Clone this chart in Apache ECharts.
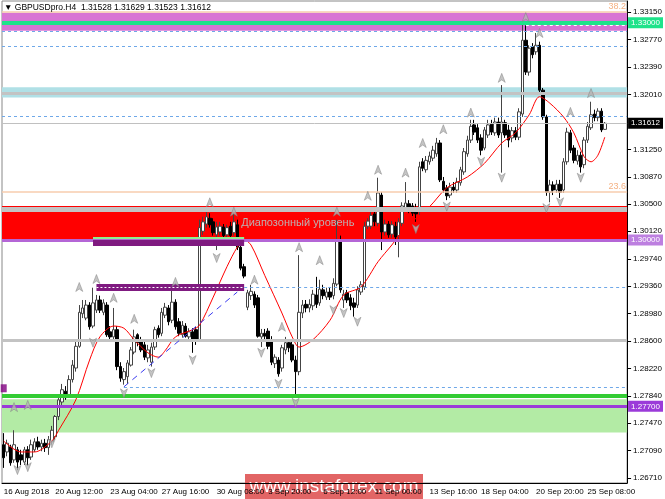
<!DOCTYPE html>
<html><head><meta charset="utf-8">
<script src="https://cdn.jsdelivr.net/npm/echarts@6/dist/echarts.min.js"></script>
<style>html,body{margin:0;padding:0;background:#fff}#c{width:665px;height:499px}</style>
</head><body><div id="c"></div>
<script>
// ---------- DATA ----------
const opens = [
1.2717,1.2707,1.2714,1.2696,1.2710,1.2703,1.2693,1.2710,1.2700,1.2710,
1.2721,1.2714,1.2719,1.2713,1.2721,1.2728,1.2756,1.2776,1.2791,1.2785,
1.2807,1.2823,1.2853,1.2898,1.2892,1.2910,1.2881,1.2903,1.2917,1.2900,
1.2910,1.2873,1.2866,1.2876,1.2825,1.2807,1.2811,1.2827,1.2845,1.2869,
1.2860,1.2855,1.2837,1.2831,1.2852,1.2878,1.2871,1.2896,1.2906,1.2889,
1.2914,1.2887,1.2869,1.2881,1.2866,1.2873,1.2876,1.2862,1.3012,1.3022,
1.3030,1.3025,1.3007,1.3011,1.3018,1.3007,1.3019,1.3010,1.3021,1.2990,
1.2963,1.2907,1.2923,1.2925,1.2920,1.2866,1.2871,1.2874,1.2862,1.2829,
1.2834,1.2823,1.2848,1.2858,1.2855,1.2834,1.2818,1.2899,1.2911,1.2906,
1.2909,1.2924,1.2913,1.2931,1.2921,1.2928,1.2923,1.2939,1.3000,1.2917,
1.2927,1.2920,1.2913,1.2910,1.2928,1.2935,1.3019,1.3019,1.3036,1.3023,
1.3062,1.3011,1.3022,1.3008,1.3019,1.3006,1.3023,1.3043,1.3050,1.3047,
1.3044,1.3039,1.3108,1.3097,1.3108,1.3113,1.3119,1.3134,1.3081,1.3072,
1.3062,1.3073,1.3069,1.3079,1.3094,1.3119,1.3138,1.3159,1.3155,1.3141,
1.3127,1.3145,1.3160,1.3148,1.3163,1.3148,1.3162,1.3152,1.3141,1.3151,
1.3142,1.3174,1.3276,1.3232,1.3267,1.3260,1.3269,1.3207,1.3170,1.3066,
1.3076,1.3069,1.3077,1.3069,1.3108,1.3148,1.3127,1.3109,1.3117,1.3104,
1.3138,1.3155,1.3174,1.3169,1.3178,1.31528];
const closes = [
1.2699,1.2719,1.2692,1.2717,1.2693,1.2696,1.2710,1.2699,1.2717,1.2721,
1.2714,1.2719,1.2713,1.2724,1.2737,1.2756,1.2779,1.2793,1.2782,1.2807,
1.2827,1.2853,1.2900,1.2906,1.2910,1.2880,1.2913,1.2917,1.2903,1.2913,
1.2869,1.2866,1.2876,1.2825,1.2809,1.2818,1.2830,1.2848,1.2866,1.2858,
1.2848,1.2838,1.2848,1.2852,1.2876,1.2869,1.2900,1.2907,1.2887,1.2914,
1.2880,1.2871,1.2882,1.2867,1.2873,1.2862,1.2862,1.3017,1.3025,1.3032,
1.3021,1.3010,1.3018,1.3019,1.3006,1.3017,1.3006,1.3025,1.2990,1.2961,
1.2950,1.2927,1.2929,1.2910,1.2867,1.2871,1.2867,1.2853,1.2831,1.2838,
1.2815,1.2851,1.2858,1.2851,1.2834,1.2818,1.2900,1.2910,1.2906,1.2911,
1.2925,1.2911,1.2932,1.2923,1.2928,1.2921,1.2940,1.3000,1.2931,1.2925,
1.2917,1.2909,1.2907,1.2931,1.2938,1.3019,1.3026,1.3034,1.3025,1.3065,
1.3011,1.3022,1.3007,1.3021,1.3004,1.3025,1.3047,1.3051,1.3041,1.3037,
1.3036,1.3101,1.3099,1.3110,1.3116,1.3124,1.3134,1.3083,1.3069,1.3061,
1.3073,1.3069,1.3080,1.3097,1.3122,1.3138,1.3157,1.3149,1.3138,1.3124,
1.3152,1.3159,1.3149,1.3163,1.3145,1.3163,1.3145,1.3138,1.3151,1.3142,
1.3177,1.3276,1.3232,1.3265,1.3256,1.3269,1.3207,1.3170,1.3066,1.3076,
1.3069,1.3077,1.3066,1.3108,1.3149,1.3124,1.3110,1.3117,1.3101,1.3138,
1.3157,1.3173,1.3169,1.3178,1.3152,1.31612];
const lows = [
1.2685,1.2701,1.2688,1.2692,1.2682,1.2689,1.2689,1.2688,1.2696,1.2707,
1.2710,1.2708,1.2707,1.2703,1.2717,1.2724,1.2751,1.2772,1.2779,1.2782,
1.2803,1.2818,1.2851,1.2892,1.2889,1.2876,1.2878,1.2899,1.2899,1.2896,
1.2866,1.2862,1.2862,1.2820,1.2804,1.2800,1.2801,1.2825,1.2842,1.2853,
1.2845,1.2834,1.2831,1.2825,1.2848,1.2865,1.2867,1.2892,1.2882,1.2885,
1.2876,1.2867,1.2865,1.2865,1.2862,1.2844,1.2855,1.2859,1.3007,1.3017,
1.3017,1.3006,1.2986,1.3006,1.3000,1.3003,1.3000,1.3006,1.2986,1.2958,
1.2947,1.2903,1.2917,1.2906,1.2865,1.2852,1.2862,1.2849,1.2827,1.2823,
1.2811,1.2818,1.2842,1.2845,1.2831,1.2783,1.2813,1.2892,1.2900,1.2900,
1.2903,1.2906,1.2909,1.2918,1.2917,1.2917,1.2918,1.2936,1.2927,1.2906,
1.2913,1.2903,1.2894,1.2906,1.2924,1.2931,1.3015,1.3015,1.3019,1.3019,
1.2986,1.3006,1.3003,1.3003,1.2993,1.2976,1.3019,1.3039,1.3037,1.3033,
1.3025,1.3034,1.3095,1.3093,1.3104,1.3109,1.3115,1.3080,1.3065,1.3055,
1.3058,1.3065,1.3065,1.3075,1.3090,1.3115,1.3134,1.3145,1.3134,1.3117,
1.3124,1.3141,1.3145,1.3144,1.3141,1.3093,1.3141,1.3128,1.3135,1.3138,
1.3138,1.3170,1.3228,1.3227,1.3251,1.3256,1.3204,1.3166,1.3061,1.3052,
1.3062,1.3065,1.3058,1.3065,1.3104,1.3120,1.3106,1.3104,1.3093,1.3099,
1.3134,1.3152,1.3164,1.3164,1.3149,1.31523];
const highs = [
1.2733,1.2724,1.2717,1.2737,1.2714,1.2710,1.2714,1.2715,1.2724,1.2726,
1.2728,1.2724,1.2725,1.2729,1.2743,1.2758,1.2786,1.2801,1.2798,1.2813,
1.2834,1.2859,1.2910,1.2917,1.2917,1.2914,1.2934,1.2924,1.2923,1.2918,
1.2914,1.2881,1.2906,1.2881,1.2831,1.2823,1.2834,1.2852,1.2876,1.2871,
1.2866,1.2859,1.2855,1.2858,1.2880,1.2882,1.2906,1.2913,1.2910,1.2931,
1.2918,1.2892,1.2888,1.2885,1.2878,1.2878,1.2880,1.3028,1.3032,1.3041,
1.3037,1.3030,1.3025,1.3025,1.3022,1.3021,1.3025,1.3037,1.3028,1.2993,
1.2967,1.2931,1.2938,1.2929,1.2924,1.2877,1.2877,1.2878,1.2867,1.2842,
1.2838,1.2855,1.2866,1.2862,1.2859,1.2840,1.2979,1.2917,1.2917,1.2918,
1.2931,1.2949,1.2945,1.2938,1.2934,1.2935,1.2947,1.3028,1.3006,1.2931,
1.2931,1.2925,1.2920,1.2936,1.2943,1.3025,1.3030,1.3039,1.3044,1.3086,
1.3066,1.3028,1.3026,1.3026,1.3025,1.3030,1.3052,1.3080,1.3055,1.3051,
1.3050,1.3108,1.3113,1.3116,1.3122,1.3130,1.3141,1.3138,1.3087,1.3076,
1.3079,1.3080,1.3086,1.3101,1.3127,1.3144,1.3166,1.3166,1.3160,1.3146,
1.3156,1.3166,1.3166,1.3169,1.3169,1.3214,1.3166,1.3159,1.3156,1.3156,
1.3182,1.3297,1.3298,1.3269,1.3272,1.3286,1.3274,1.3210,1.3173,1.3083,
1.3081,1.3083,1.3083,1.3113,1.3155,1.3152,1.3131,1.3124,1.3122,1.3142,
1.3163,1.3191,1.3180,1.3182,1.3182,1.31629];

// moving average: [bar index, value]
const maPoints = [[0,1.2722],[5,1.2707],[9,1.2707],[14,1.2722],[16,1.2737],[21,1.2779],[25,1.2834],[28,1.2866],[32,1.2881],[35,1.2878],[38,1.2862],[42,1.2844],[45,1.2838],[47,1.2847],[50,1.2866],[55,1.2876],[57,1.2882],[61,1.2921],[65,1.2963],[68,1.2990],[70,1.3000],[72,1.2993],[76,1.2951],[81,1.2899],[84,1.2866],[86,1.2852],[90,1.2862],[95,1.2889],[99,1.2924],[104,1.2935],[109,1.2970],[113,1.2993],[117,1.3017],[124,1.3046],[129,1.3072],[135,1.3087],[140,1.3106],[145,1.3134],[149,1.3148],[153,1.3173],[156,1.3198],[159,1.3189],[163,1.3170],[166,1.3148],[169,1.3115],[171,1.3108],[173,1.3117],[175,1.3142]];

// fractal arrows: [bar index, price]
const fractalUp = [[3,1.2769],[7,1.2772],[22,1.2935],[27,1.2946],[32,1.2920],[38,1.2891],[50,1.2942],[60,1.3052],[67,1.3039],[73,1.2945],[81,1.2880],[86,1.2990],[92,1.2972],[97,1.3039],[106,1.3061],[109,1.3097],[117,1.3093],[122,1.3134],[128,1.3153],[136,1.3176],[145,1.3224],[152,1.3308],[156,1.3286],[165,1.3177],[171,1.3203]];
const fractalDown = [[4,1.2682],[7,1.2686],[14,1.2719],[26,1.2858],[35,1.2788],[43,1.2816],[55,1.2834],[62,1.2975],[75,1.2844],[80,1.2801],[85,1.2775],[96,1.2903],[99,1.2899],[103,1.2887],[120,1.3015],[129,1.3046],[139,1.3108],[145,1.3086],[158,1.3044],[162,1.3052],[168,1.3086]];

// axis ticks
const yTickValues = [1.33150,1.32770,1.32390,1.32010,1.31250,1.30870,1.30500,1.30120,1.29740,1.29360,1.28980,1.28600,1.28220,1.27840,1.27470,1.27090,1.26710];
const xTickIdx = [0,15,31,46,62,77,93,108,124,139,155,170];
const xTickText = ['16 Aug 2018','20 Aug 12:00','23 Aug 04:00','27 Aug 16:00','30 Aug 08:00','3 Sep 20:00','6 Sep 12:00','11 Sep 00:00','13 Sep 16:00','18 Sep 04:00','20 Sep 20:00','25 Sep 08:00'];

// levels
const fibValues = [1.3315, 1.3066, 1.2664];
const fibText = ['38.2', '23.6', '0.0'];
const magentaBand = [1.3289, 1.3314];
const blueBand = [1.3197, 1.3211];
const redBand = [1.3000, 1.3047];
const greenBand = [1.2734, 1.2780];
const dashedLevels = [1.3289, 1.3267, 1.3171];
const level1330 = 1.3300, level1320 = 1.3203, lastPrice = 1.31612, level1304 = 1.3042;
const level1300 = 1.3000, level1286 = 1.2862, level1278 = 1.2784, level1277 = 1.2770;
const whiteRay = [152, 1.3296];
const limeSeg = [26, 70, 1.3003];
const purpleSeg1 = [26, 70, 1.2996];
const purpleSeg2 = [27, 70, 1.2935];
const blueRay1 = [70, 1.2934];
const blueRay2 = [35, 1.2797];
const trendLine = [[35, 1.2797], [68, 1.2928]];
const purpleMark = [[0, 1.2795]];
const rangeLabel = [69, 1.3023];
const totalSlots = 182;

// categories (H4 bars, weekends skipped)
const categories = [];
(function(){ let t = Date.UTC(2018,7,16,0,0);
  while (categories.length < totalSlots) { const d = new Date(t); const w = d.getUTCDay();
    if (w !== 0 && w !== 6) categories.push(d.toISOString().slice(0,16)); t += 4*3600e3; } })();

// ---------- CHART ----------
const ohlc = opens.map((o, i) => [o, closes[i], lows[i], highs[i]]);
const lastCat = totalSlots - 1;
const H = (v, color, width, type, label) => ({ yAxis: v, lineStyle: { color, width, type: type || 'solid' }, label: label || { show: false } });
const S = (x1, x2, v, color, width, type) => [{ coord: [x1, v], lineStyle: { color, width, type: type || 'solid' }, label: { show: false } }, { coord: [x2, v] }];
const box = (bg, txt) => ({ show: true, position: 'end', distance: 1, formatter: txt, backgroundColor: bg, color: '#fff', fontSize: 8, padding: [2, 3, 1, 3], fontFamily: 'Liberation Sans' });
const fibLabel = t => ({ show: true, position: 'insideEndTop', formatter: t, color: '#F4B183', fontSize: 9, distance: 1 });
const dash = '#6FA8E8';

const chart = echarts.init(document.getElementById('c'));
chart.setOption({
  animation: false,
  textStyle: { fontFamily: 'Liberation Sans' },
  grid: { left: 2, right: 35, top: 1, bottom: 16, show: true, borderColor: '#888', borderWidth: 1, backgroundColor: '#fff' },
  xAxis: {
    type: 'category', data: categories, boundaryGap: true,
    axisLine: { lineStyle: { color: '#000' } },
    axisTick: { alignWithLabel: true, interval: i => xTickIdx.includes(i), length: 4, lineStyle: { color: '#000' } },
    axisLabel: { interval: i => xTickIdx.includes(i), formatter: (v, i) => xTickText[xTickIdx.indexOf(i)] || '', align: 'left', fontSize: 8, color: '#000', margin: 5 },
    splitLine: { show: false }
  },
  yAxis: {
    type: 'value', position: 'right', min: 1.26641, max: 1.33302, scale: true,
    axisLine: { show: true, lineStyle: { color: '#000' } },
    axisTick: { show: true, length: 4, customValues: yTickValues, lineStyle: { color: '#000' } },
    axisLabel: { customValues: yTickValues, formatter: v => v.toFixed(5), fontSize: 8, color: '#000', margin: 6 },
    splitLine: { show: false }
  },
  graphic: [
    { type: 'text', left: 4, top: 3, z: 100, style: { text: '▼ GBPUSDpro.H4  1.31528 1.31629 1.31523 1.31612', font: '8.5px "Liberation Sans"', fill: '#000' } },
    { type: 'group', left: 245, top: 474, z: 100, children: [
      { type: 'rect', shape: { x: 0, y: 0, width: 178, height: 25 }, style: { fill: 'rgba(222,80,80,0.88)' } },
      { type: 'text', style: { x: 89, y: 12.5, text: 'www.instaforex.com', font: '19px "Liberation Sans"', fill: '#fff', align: 'center', verticalAlign: 'middle' } }
    ] }
  ],
  series: [
    { name: 'bands', type: 'line', data: [], z: 1, silent: true,
      markArea: { silent: true, data: [
        [{ yAxis: magentaBand[0], itemStyle: { color: '#D874D4' } }, { yAxis: magentaBand[1] }],
        [{ yAxis: blueBand[0], itemStyle: { color: '#B0E0E6' } }, { yAxis: blueBand[1] }],
        [{ yAxis: redBand[0], itemStyle: { color: '#FF0000' } }, { yAxis: redBand[1] }],
        [{ yAxis: greenBand[0], itemStyle: { color: '#B3EBA5' } }, { yAxis: greenBand[1] }]
      ] } },
    { name: 'levels', type: 'line', data: [], z: 2, silent: true,
      markLine: { silent: true, precision: 6, symbol: ['none', 'none'], animation: false, data: [
        H(fibValues[0], '#F7CDAE', 1.5, 'solid', fibLabel(fibText[0])),
        H(fibValues[1], '#F7CDAE', 1.5, 'solid', fibLabel(fibText[1])),
        H(fibValues[2], '#F7CDAE', 1, 'solid', fibLabel(fibText[2])),
        H(dashedLevels[0], dash, 1, [3, 3]),
        H(dashedLevels[1], dash, 1, [3, 3]),
        H(dashedLevels[2], dash, 1, [3, 3]),
        S(whiteRay[0], lastCat, whiteRay[1], '#fff', 1, [3, 3]),
        H(level1330, '#1EE38A', 4, 'solid', box('#1EE38A', '1.33000')),
        H(level1320, '#C3C3C3', 3),
        H(lastPrice, '#C0C0C0', 1, 'solid', box('#000', '1.31612')),
        H(level1304, '#C3C3C3', 5),
        H(level1300, '#B466D6', 3, 'solid', box('#BD7FE0', '1.30000')),
        S(limeSeg[0], limeSeg[1], limeSeg[2], '#90EE90', 2),
        S(purpleSeg1[0], purpleSeg1[1], purpleSeg1[2], '#7F1A80', 6),
        S(purpleSeg2[0], purpleSeg2[1], purpleSeg2[2], '#7F1A80', 7),
        S(purpleSeg2[0], purpleSeg2[1], purpleSeg2[2], '#fff', 1, [2, 2]),
        S(blueRay1[0], lastCat, blueRay1[1], dash, 1, [3, 3]),
        H(level1286, '#C3C3C3', 3),
        S(blueRay2[0], lastCat, blueRay2[1], dash, 1, [3, 3]),
        H(level1278, '#33CC33', 4),
        H(level1277, '#9B3BD9', 3, 'solid', box('#9B3BD9', '1.27700')),
        [{ coord: trendLine[0], lineStyle: { color: '#3A3AF0', width: 1, type: [6, 5] }, label: { show: false } }, { coord: trendLine[1] }]
      ] },
      markPoint: { silent: true, symbol: 'rect', symbolSize: 1, itemStyle: { color: 'rgba(0,0,0,0)' },
        data: [{ coord: rangeLabel, label: { show: true, position: 'right', distance: 0, formatter: 'Диапозонный уровень', color: 'rgba(185,185,185,0.95)', fontSize: 11, fontFamily: 'Liberation Sans' } }] } },
    { name: 'candles', type: 'candlestick', data: ohlc, z: 3, barWidth: 3,
      itemStyle: { color: '#FFFFFF', color0: '#000000', borderColor: '#444', borderColor0: '#000', borderWidth: 1 } },
    { name: 'ma', type: 'line', data: maPoints, z: 4, smooth: 0.3, symbol: 'none', lineStyle: { color: '#FF0000', width: 1 } },
    { name: 'fractalUp', type: 'scatter', data: fractalUp, z: 5, symbol: 'path://M5,0 L10,11 L5,8 L0,11 Z', symbolSize: [7, 9],
      itemStyle: { color: '#B5B5B5', borderColor: '#808080', borderWidth: 0.6 } },
    { name: 'fractalDown', type: 'scatter', data: fractalDown, z: 5, symbol: 'path://M5,0 L10,11 L5,8 L0,11 Z', symbolRotate: 180, symbolSize: [7, 9],
      itemStyle: { color: '#B5B5B5', borderColor: '#808080', borderWidth: 0.6 } },
    { name: 'mark', type: 'scatter', data: purpleMark, z: 5, symbol: 'rect', symbolSize: [6, 8], itemStyle: { color: '#800080' } }
  ]
});
</script>
</body></html>
